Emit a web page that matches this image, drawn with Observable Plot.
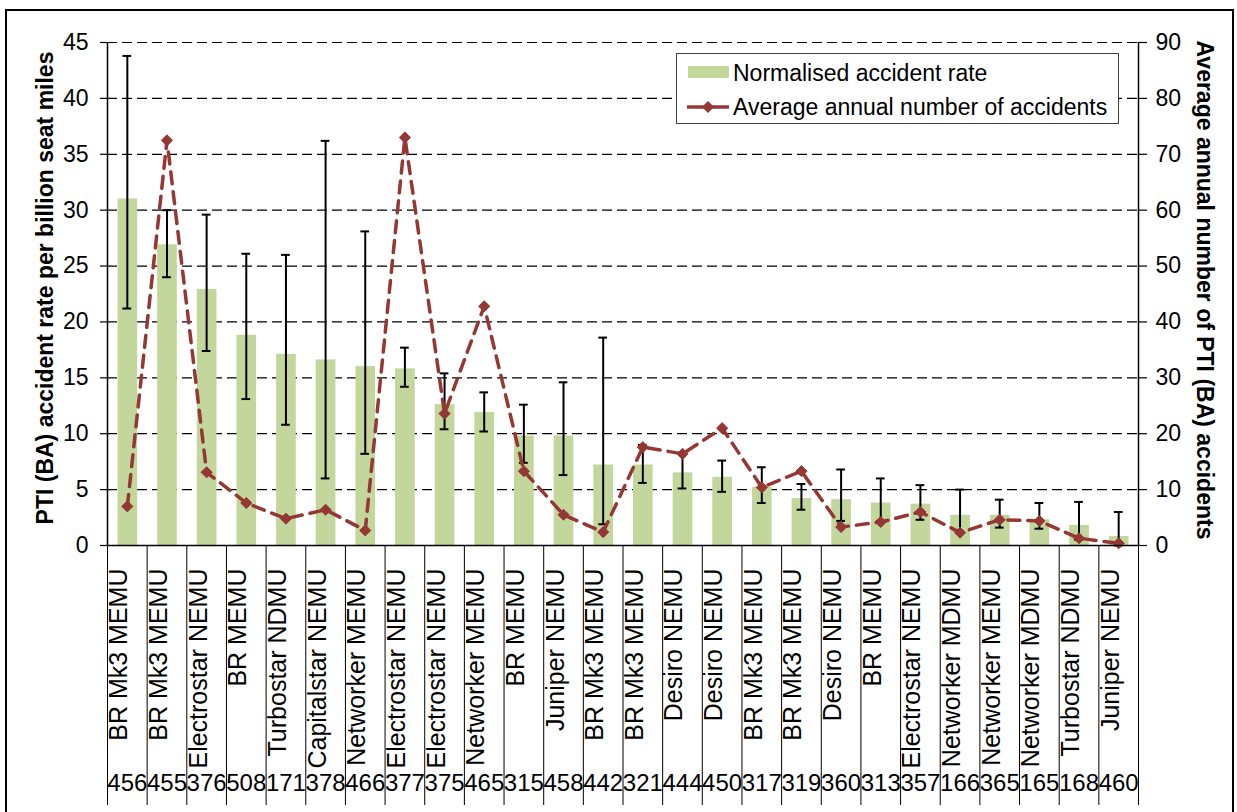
<!DOCTYPE html>
<html>
<head>
<meta charset="utf-8">
<script src="https://cdn.jsdelivr.net/npm/d3@7"></script>
<script src="https://cdn.jsdelivr.net/npm/@observablehq/plot@0.6"></script>
<style>
  html, body { margin: 0; padding: 0; background: #fff; overflow: hidden; }
  body { width: 1237px; height: 812px; position: relative; font-family: "Liberation Sans", Arial, sans-serif; }
  #chart { position: absolute; left: 0; top: 0; }
  #border { position: absolute; left: 5px; top: 9px; width: 1229px; height: 840px; border: 2px solid #000; box-sizing: border-box; pointer-events: none; }
  #legend { position: absolute; left: 676px; top: 53px; width: 443px; height: 71px; border: 1px solid #404040; background: #fff; box-sizing: border-box; font-size: 23px; color: #000; }
  #legend .t { position: absolute; left: 56px; white-space: nowrap; line-height: 26px; }
</style>
</head>
<body>
<div id="chart"></div>
<div id="border"></div>
<div id="legend">
  <div style="position:absolute;left:11px;top:12px;width:41px;height:12px;background:#c3d69b"></div>
  <div class="t" style="top:6px">Normalised accident rate</div>
  <svg style="position:absolute;left:8px;top:42px" width="46" height="22">
    <line x1="2" y1="11" x2="44" y2="11" stroke="#953735" stroke-width="3.5"></line>
    <path d="M23,5 L29,11 L23,17 L17,11 Z" fill="#953735"></path>
  </svg>
  <div class="t" style="top:40px">Average annual number of accidents</div>
</div>
<script>
// ---- data ----
const units = ["BR Mk3 MEMU","BR Mk3 MEMU","Electrostar NEMU","BR MEMU","Turbostar NDMU","Capitalstar NEMU","Networker MEMU","Electrostar NEMU","Electrostar NEMU","Networker MEMU","BR MEMU","Juniper NEMU","BR Mk3 MEMU","BR Mk3 MEMU","Desiro NEMU","Desiro NEMU","BR Mk3 MEMU","BR Mk3 MEMU","Desiro NEMU","BR MEMU","Electrostar NEMU","Networker MDMU","Networker MEMU","Networker MDMU","Turbostar NDMU","Juniper NEMU"];
const classes = ["456","455","376","508","171","378","466","377","375","465","315","458","442","321","444","450","317","319","360","313","357","166","365","165","168","460"];
const rate = [31.0,26.9,22.9,18.8,17.1,16.6,16.0,15.8,12.6,11.9,9.8,9.8,7.2,7.2,6.5,6.1,5.2,4.2,4.1,3.8,3.7,2.7,2.7,2.3,1.8,0.8];
const rateLow = [21.2,24.0,17.4,13.1,10.8,6.0,8.2,14.2,10.4,10.2,7.4,6.3,1.9,5.6,5.1,4.8,3.8,3.2,2.2,2.2,2.3,1.3,1.6,1.5,0.5,0.0];
const rateHigh = [43.8,30.0,29.6,26.1,26.0,36.2,28.1,17.7,15.4,13.7,12.6,14.6,18.6,9.0,8.3,7.6,7.0,5.5,6.8,6.0,5.4,5.0,4.1,3.8,3.9,3.0];
const accidents = [7.0,72.5,13.1,7.6,4.8,6.4,2.7,73.0,23.6,42.8,13.3,5.5,2.4,17.6,16.4,21.0,10.4,13.3,3.3,4.2,6.0,2.3,4.6,4.4,1.3,0.4];
const leftTicks = [0,5,10,15,20,25,30,35,40,45];
const leftTitle = "PTI (BA) accident rate per billion seat miles";
const rightTitle = "Average annual number of PTI (BA) accidents";

// right axis (0-90) mapped onto left scale (0-45)
const ratio = 2;

const data = units.map((u, i) => ({
  i, unit: u, cls: classes[i], rate: rate[i], lo: rateLow[i], hi: rateHigh[i], acc: accidents[i]
}));
const n = data.length;
const font = "'Liberation Sans', Arial, sans-serif";
const red = "#953735";

const chart = Plot.plot({
  width: 1237,
  height: 812,
  marginLeft: 107,
  marginRight: 99,
  marginTop: 42,
  marginBottom: 267,
  style: { fontFamily: font, color: "#000", background: "transparent" },
  x: { type: "linear", domain: [0, n], axis: null },
  y: { domain: [0, 45], axis: null },
  marks: [
    Plot.gridY(leftTicks.filter(d => d > 0), { stroke: "#000", strokeOpacity: 1, strokeWidth: 1.2, strokeDasharray: "10,5" }),
    Plot.rectY(data, { x1: "i", x2: d => d.i + 1, y: "rate", fill: "#c3d69b", insetLeft: 10.5, insetRight: 9.5 }),
    Plot.ruleX(data, { x: d => d.i + 0.5, y1: "lo", y2: "hi", stroke: "#000", strokeWidth: 2 }),
    Plot.ruleY(data, { y: "hi", x1: d => d.i + 0.39, x2: d => d.i + 0.61, stroke: "#000", strokeWidth: 2 }),
    Plot.ruleY(data, { y: "lo", x1: d => d.i + 0.39, x2: d => d.i + 0.61, stroke: "#000", strokeWidth: 2 }),
    Plot.line(data, { x: d => d.i + 0.5, y: d => d.acc / ratio, stroke: red, strokeWidth: 3.5, strokeDasharray: "12,8" }),
    Plot.dot(data, { x: d => d.i + 0.5, y: d => d.acc / ratio, symbol: "diamond2", r: 5, fill: red, stroke: red, strokeWidth: 1 }),
    // axis lines
    Plot.ruleX([0, n], { stroke: "#000", strokeWidth: 1.5 }),
    Plot.ruleY([0], { stroke: "#000", strokeWidth: 1.5 }),
    // left axis
    Plot.axisY({ anchor: "left", ticks: leftTicks, tickSize: 7, tickPadding: 12, fontSize: 23, stroke: "#000", strokeWidth: 1.2, label: null }),
    // right axis (values x2)
    Plot.axisY({ anchor: "right", ticks: leftTicks, tickFormat: d => d * ratio, tickSize: 8, tickPadding: 9, fontSize: 23, stroke: "#000", strokeWidth: 1.2, label: null }),
    // category separators
    Plot.axisX({ anchor: "bottom", ticks: d3.range(0, n + 1), tickSize: 260, tickFormat: () => "", stroke: "#000", strokeWidth: 1, label: null }),
    // category labels
    Plot.text(data, { x: d => d.i + 0.5, text: "unit", frameAnchor: "bottom", dy: 23, rotate: -90, textAnchor: "end", fontSize: 25, fill: "#000" }),
    Plot.text(data, { x: d => d.i + 0.5, text: "cls", frameAnchor: "bottom", dy: 245, fontSize: 24, fill: "#000" }),
    // axis titles
    Plot.text([leftTitle], { frameAnchor: "left", textAnchor: "middle", dx: -62, dy: -6, rotate: -90, fontSize: 23, fontWeight: "bold", fill: "#000" }),
    Plot.text([rightTitle], { frameAnchor: "right", textAnchor: "middle", dx: 66, dy: -4, rotate: 90, fontSize: 23, fontWeight: "bold", fill: "#000" })
  ]
});
document.getElementById("chart").appendChild(chart);
</script>
</body>
</html>
